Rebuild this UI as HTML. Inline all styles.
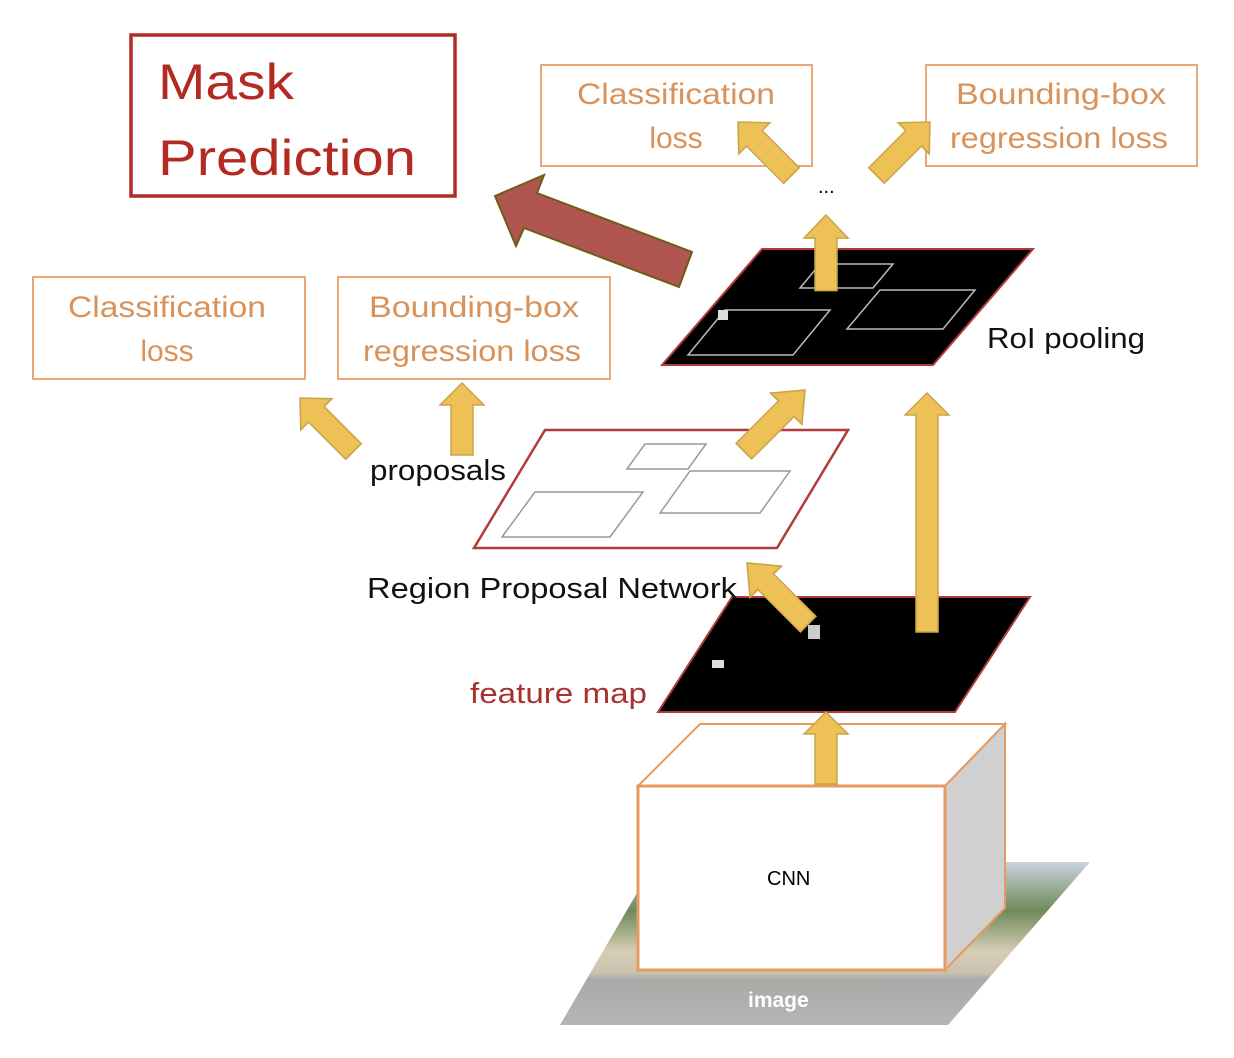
<!DOCTYPE html>
<html><head><meta charset="utf-8"><style>
html,body{margin:0;padding:0;background:#fff;width:1234px;height:1058px;overflow:hidden}
svg{display:block}
text{font-family:"Liberation Sans",sans-serif}
</style></head><body>
<svg width="1234" height="1058" viewBox="0 0 1234 1058" xmlns="http://www.w3.org/2000/svg">
<defs>
<linearGradient id="img" x1="0" y1="0" x2="0" y2="1">
<stop offset="0" stop-color="#c9d3dd"/><stop offset="0.3" stop-color="#6f8a5a"/><stop offset="0.55" stop-color="#d8cdb5"/><stop offset="0.68" stop-color="#c8c2b0"/><stop offset="0.72" stop-color="#a8aaa8"/><stop offset="1" stop-color="#b4b6b6"/>
</linearGradient>
<polygon id="ar" points="0,0 22,22 11,22 11,72 -11,72 -11,22 -22,22" fill="#eec157" stroke="#c9a44a" stroke-width="1.5"/>
</defs>

<rect x="131" y="35" width="324" height="161" fill="none" stroke="#b22a22" stroke-width="3.5"/>
<text x="158" y="99" font-size="50" fill="#b22a22" textLength="136" lengthAdjust="spacingAndGlyphs">Mask</text>
<text x="158" y="175" font-size="50" fill="#b22a22" textLength="258" lengthAdjust="spacingAndGlyphs">Prediction</text>

<g fill="none" stroke="#e6a878" stroke-width="2">
<rect x="541" y="65" width="271" height="101"/>
<rect x="926" y="65" width="271" height="101"/>
<rect x="33" y="277" width="272" height="102"/>
<rect x="338" y="277" width="272" height="102"/>
</g>
<g fill="#d8925a" font-size="30" text-anchor="middle">
<text x="676" y="104" textLength="198" lengthAdjust="spacingAndGlyphs">Classification</text>
<text x="676" y="148">loss</text>
<text x="1061" y="104" textLength="210" lengthAdjust="spacingAndGlyphs">Bounding-box</text>
<text x="1059" y="148" textLength="218" lengthAdjust="spacingAndGlyphs">regression loss</text>
<text x="167" y="317" textLength="198" lengthAdjust="spacingAndGlyphs">Classification</text>
<text x="167" y="361">loss</text>
<text x="474" y="317" textLength="210" lengthAdjust="spacingAndGlyphs">Bounding-box</text>
<text x="472" y="361" textLength="218" lengthAdjust="spacingAndGlyphs">regression loss</text>
</g>

<polygon points="495,196 544,175 537,193 692,252 679,287 524,228 516,246" fill="#b05650" stroke="#6e5d14" stroke-width="2"/>

<text x="818" y="193" font-size="20" fill="#000">...</text>

<polygon points="560,1025 655,862 1090,862 948,1025" fill="url(#img)"/>
<text x="748" y="1007" font-size="21" font-weight="bold" fill="#fff">image</text>

<polygon points="638,786 700,724 1005,724 945,786" fill="#fff" stroke="#e69a60" stroke-width="2"/>
<polygon points="945,786 1005,724 1005,908 945,970" fill="#d0d0d0" stroke="#e69a60" stroke-width="2"/>
<rect x="638" y="786" width="307" height="184" fill="#fff" stroke="#e69a60" stroke-width="3"/>
<text x="767" y="885" font-size="20" fill="#000">CNN</text>

<polygon points="658,712 732,597 1030,597 955,712" fill="#000" stroke="#b23a3a" stroke-width="2"/>
<rect x="808" y="625" width="12" height="14" fill="#ccc"/>
<rect x="712" y="660" width="12" height="8" fill="#ddd"/>
<text x="470" y="703" font-size="29" fill="#a83232" textLength="177" lengthAdjust="spacingAndGlyphs">feature map</text>

<polygon points="474,548 545,430 848,430 777,548" fill="#fff" stroke="#b23a3a" stroke-width="2.5"/>
<g fill="none" stroke="#999" stroke-width="1.5">
<polygon points="502,537 535,492 643,492 610,537"/>
<polygon points="660,513 690,471 790,471 760,513"/>
<polygon points="627,469 645,444 706,444 688,469"/>
</g>
<text x="370" y="480" font-size="29" fill="#111" textLength="136" lengthAdjust="spacingAndGlyphs">proposals</text>
<text x="367" y="598" font-size="29" fill="#111" textLength="370" lengthAdjust="spacingAndGlyphs">Region Proposal Network</text>

<polygon points="662,365 762,249 1033,249 933,365" fill="#000" stroke="#b23a3a" stroke-width="2"/>
<g fill="none" stroke="#bbb" stroke-width="1.5">
<polygon points="688,355 725,310 830,310 793,355"/>
<polygon points="847,329 880,290 975,290 943,329"/>
<polygon points="800,288 820,264 893,264 873,288"/>
</g>
<rect x="718" y="310" width="10" height="10" fill="#ddd"/>
<text x="987" y="348" font-size="29" fill="#111" textLength="158" lengthAdjust="spacingAndGlyphs">RoI pooling</text>

<use href="#ar" transform="translate(826,712)" />
<polygon points="927,393 949,415 938,415 938,632 916,632 916,415 905,415" fill="#eec157" stroke="#c9a44a" stroke-width="1.5"/>
<use href="#ar" transform="translate(826,215) scale(1,1.05)"/>
<use href="#ar" transform="translate(462,383) scale(1,1)"/>
<use href="#ar" transform="translate(300,398) rotate(-45) scale(1,1.05)"/>
<use href="#ar" transform="translate(747,563) rotate(-45) scale(1,1.2)"/>
<use href="#ar" transform="translate(805,390) rotate(45) scale(1,1.2)"/>
<use href="#ar" transform="translate(738,122) rotate(-45) scale(1,1.05)"/>
<use href="#ar" transform="translate(930,122) rotate(45) scale(1,1.05)"/>
</svg>
</body></html>
